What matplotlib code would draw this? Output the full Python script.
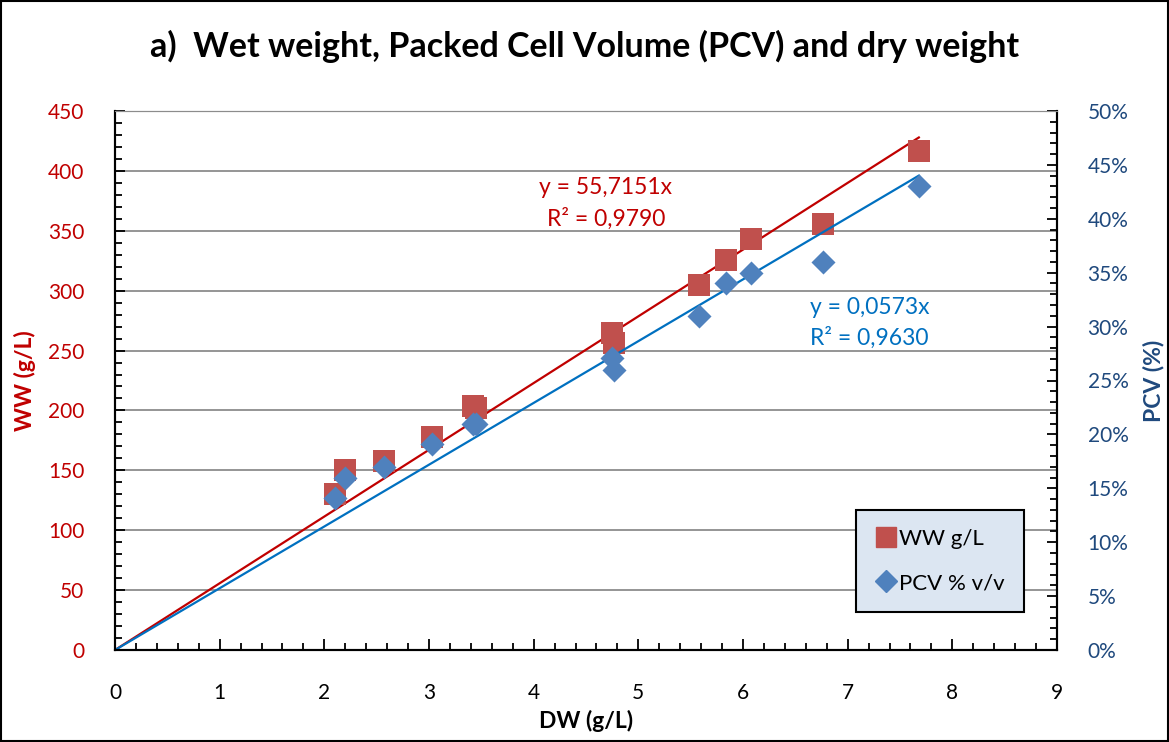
import matplotlib
matplotlib.use("Agg")
import matplotlib.pyplot as plt
import numpy as np
from matplotlib.ticker import MultipleLocator, PercentFormatter
from matplotlib.lines import Line2D
from matplotlib.patches import Rectangle

plt.rcParams["font.family"] = ["Lato", "DejaVu Sans"]

# dry weight (g/L) per sample
dw = [2.10, 2.20, 2.57, 3.03, 3.42, 3.45, 4.75, 4.77, 5.58, 5.84, 6.08, 6.76, 7.68]
# wet weight (g/L)
ww = [130, 150, 158, 178, 204, 202, 265, 256, 305, 326, 343, 356, 417]
# packed cell volume (fraction v/v)
pcv = [0.141, 0.160, 0.170, 0.191, 0.210, 0.210, 0.271, 0.260, 0.310, 0.340, 0.350, 0.360, 0.430]

ww_slope, ww_r2 = 55.7151, 0.9790
pcv_slope, pcv_r2 = 0.0573, 0.9630

RED_TXT = "#C00000"
RED_MK = "#C0504D"
BLUE_MK = "#4F81BD"
BLUE_LINE = "#0070C0"
BLUE_AX = "#1F497D"

fig = plt.figure(figsize=(11.69, 7.42), dpi=100)
fig.patches.append(Rectangle((0.001, 0.001), 0.998, 0.997, transform=fig.transFigure,
                             fill=False, edgecolor="black", linewidth=1.5))

ax = fig.add_axes([115 / 1169, 92 / 742, 942 / 1169, 539 / 742])
ax2 = ax.twinx()

ax.set_xlim(0, 9)
ax.set_ylim(0, 450)
ax2.set_ylim(0, 0.5)

ax.yaxis.set_major_locator(MultipleLocator(50))
ax.yaxis.set_minor_locator(MultipleLocator(10))
ax.xaxis.set_major_locator(MultipleLocator(1))
ax.xaxis.set_minor_locator(MultipleLocator(0.2))
ax2.yaxis.set_major_locator(MultipleLocator(0.05))
ax2.yaxis.set_minor_locator(MultipleLocator(0.01))
ax2.yaxis.set_major_formatter(PercentFormatter(1.0, decimals=0))

ax.grid(axis="y", which="major", color="#8C8C8C", linewidth=1.3)
ax.set_axisbelow(True)

ax.tick_params(axis="y", which="both", direction="in", colors="black", labelcolor=RED_TXT,
               labelsize=15, pad=22, width=1.3)
ax.tick_params(axis="y", which="major", length=7)
ax.tick_params(axis="y", which="minor", length=5)
ax.tick_params(axis="x", which="both", direction="in", labelsize=15, pad=24, width=1.3)
ax.tick_params(axis="x", which="major", length=8)
ax.tick_params(axis="x", which="minor", length=5)
ax2.tick_params(axis="y", which="both", direction="in", colors="black", labelcolor=BLUE_AX,
                labelsize=15, pad=22, width=1.3)
ax2.tick_params(axis="y", which="major", length=7)
ax2.tick_params(axis="y", which="minor", length=5)

for a in (ax, ax2):
    a.spines["top"].set_color("#8C8C8C")
    for s in ("left", "right", "bottom"):
        a.spines[s].set_linewidth(1.5)
        a.spines[s].set_color("black")

# trend lines through origin
xfit = np.array([0, max(dw)])
ax.plot(xfit, ww_slope * xfit, color=RED_TXT, linewidth=1.6, zorder=2)
ax2.plot(xfit, pcv_slope * xfit, color=BLUE_LINE, linewidth=1.6, zorder=2)

ax.scatter(dw, ww, marker="s", s=240, color=RED_MK, linewidths=0, zorder=3)
ax2.scatter(dw, pcv, marker="D", s=150, color=BLUE_MK, linewidths=0, zorder=3)

eq_fs = 16.5
ax.text(4.69, 386, f"y = {ww_slope:.4f}x".replace(".", ","), color=RED_TXT, fontsize=eq_fs,
        ha="center", va="center")
ax.text(4.69, 360, f"R² = {ww_r2:.4f}".replace(".", ","), color=RED_TXT, fontsize=eq_fs,
        ha="center", va="center")
ax.text(7.21, 286, f"y = {pcv_slope:.4f}x".replace(".", ","), color=BLUE_LINE, fontsize=eq_fs,
        ha="center", va="center")
ax.text(7.21, 261, f"R² = {pcv_r2:.4f}".replace(".", ","), color=BLUE_LINE, fontsize=eq_fs,
        ha="center", va="center")

ax.set_ylabel("WW (g/L)", color=RED_TXT, fontsize=16.5, fontweight="bold")
ax.yaxis.set_label_coords(-79 / 942, 0.50)
ax2.set_ylabel("PCV (%)", color=BLUE_AX, fontsize=16.5, fontweight="bold")
ax2.yaxis.set_label_coords(1 + 86 / 942, 0.50)
ax.set_xlabel("DW (g/L)", color="black", fontsize=16.5, fontweight="bold")
ax.xaxis.set_label_coords(0.50, -60 / 539)

fig.text(0.5, 0.937, "a)  Wet weight, Packed Cell Volume (PCV) and dry weight",
         ha="center", va="center", fontsize=24.5, fontweight="bold")

handles = [
    Line2D([], [], marker="s", linestyle="none", markersize=14, color=RED_MK),
    Line2D([], [], marker="D", linestyle="none", markersize=11, color=BLUE_MK),
]
leg = ax2.legend(handles, ["WW g/L", "PCV % v/v"], loc="lower right",
                 bbox_to_anchor=(1024 / 1169, 130 / 742), bbox_transform=fig.transFigure,
                 borderaxespad=0, fontsize=16, frameon=True, fancybox=False,
                 handletextpad=0.1, handlelength=1.0, labelspacing=1.1, borderpad=0.85)
leg.get_frame().set_facecolor("#DCE6F2")
leg.get_frame().set_edgecolor("black")
leg.get_frame().set_linewidth(1.5)
leg.get_frame().set_alpha(1)

fig.savefig("out.png", dpi=100)
